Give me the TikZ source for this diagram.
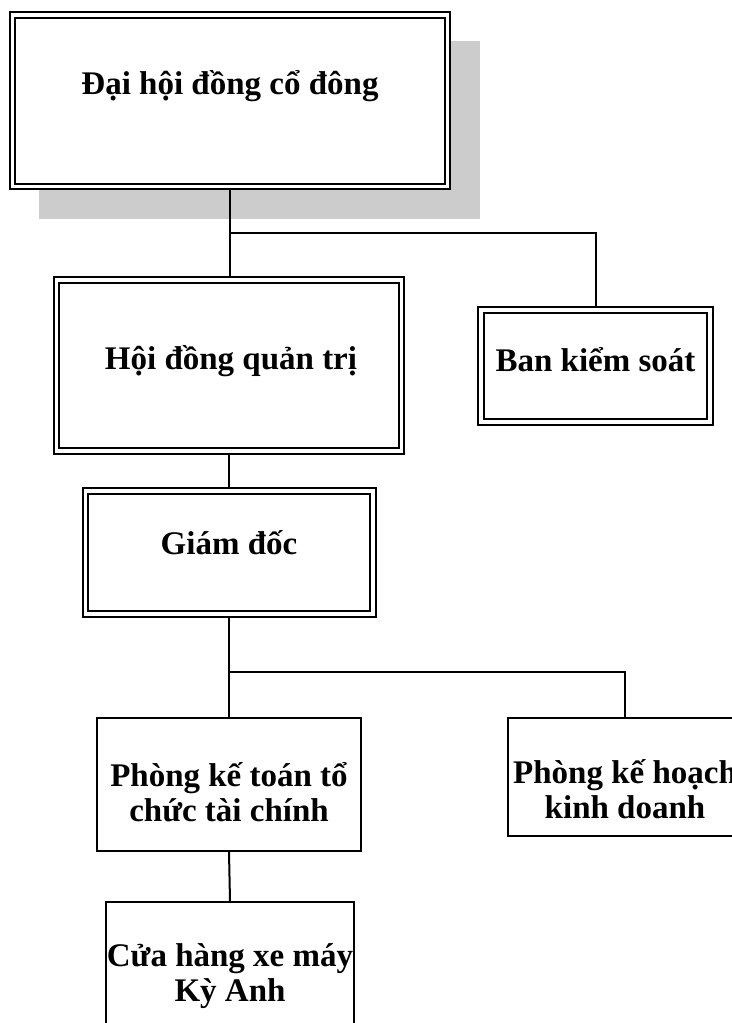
\documentclass[tikz,border=0pt]{standalone}
\usepackage{fontspec}
\setmainfont{Liberation Serif}

\begin{document}
\begin{tikzpicture}[x=0.5pt, y=-0.5pt]
        \clip (0,0) rectangle (732,1023);
        \fill[white] (0,0) rectangle (732,1023);
        % shadow of the top box
        \fill[black!20] (39,41) rectangle (480,219);

        \begin{scope}[every node/.style={rectangle,draw=black,fill=white,line width=1pt,
                      double=white,double distance=1.75pt,outer sep=1.875pt,inner sep=0pt}]
            \node (dhcd) [minimum width=217.5pt, minimum height=85.75pt] at (230, 100.75) {} ;
            \node (hdqt) [minimum width=172.5pt, minimum height=85.5pt] at (229, 365.5) {} ;
            \node (bks) [minimum width=114.5pt, minimum height=56pt] at (595.5, 366) {} ;
            \node (gd) [minimum width=143.75pt, minimum height=61.5pt] at (229, 552.5) {} ;
        \end{scope}
        \begin{scope}[every node/.style={rectangle,draw=black,fill=white,line width=1pt,inner sep=0pt}]
            \node (pkt) [minimum width=132pt, minimum height=66.5pt] at (229, 784.5) {} ;
            \node (pkh) [minimum width=117pt, minimum height=59pt] at (625, 777) {} ;
            \node (chxm) [minimum width=124pt, minimum height=70pt] at (230, 972) {} ;
        \end{scope}

        \begin{scope}[every node/.style={font=\fontsize{16.5}{17.5}\selectfont\bfseries,
                      align=center,inner sep=0pt,anchor=base}]
            \node (dhcdT) at (230, 94) {Đại hội đồng cổ đông} ;
            \node (hdqtT) at (231, 369) {Hội đồng quản trị} ;
            \node (bksT) at (595.5, 371) {Ban kiểm soát} ;
            \node (gdT) at (229, 554) {Giám đốc} ;
            \node (pktT) at (229, 821) {Phòng kế toán tổ\\chức tài chính} ;
            \node (pkhT) at (625, 818) {Phòng kế hoạch\\kinh doanh} ;
            \node (chxmT) at (230, 1001) {Cửa hàng xe máy\\Kỳ Anh} ;
        \end{scope}

        \begin{scope}[line width=1pt]
            \coordinate (j1) at (230, 233) ;
            \coordinate (j2) at (229, 672) ;
            \draw (dhcd.south) -- (j1) -| (bks.north) ;
            \draw (j1) -- (j1 |- hdqt.north) ;
            \draw (hdqt.south) -- (gd.north) ;
            \draw (gd.south) -- (j2) -| (pkh.north) ;
            \draw (j2) -- (pkt.north) ;
            \draw (pkt.south) -- (chxm.north) ;
        \end{scope}
    \end{tikzpicture}
\end{document}
